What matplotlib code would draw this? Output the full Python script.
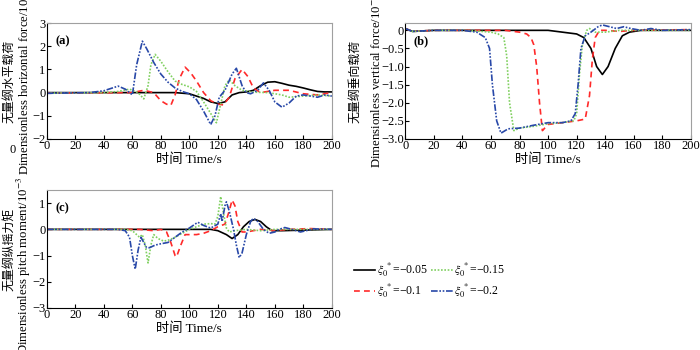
import numpy as np
import matplotlib
matplotlib.use('Agg')
import matplotlib.pyplot as plt
from matplotlib.ticker import FuncFormatter

plt.rcParams['font.family'] = ['Liberation Serif', 'Noto Sans CJK SC']
plt.rcParams['mathtext.fontset'] = 'stix'
plt.rcParams['axes.unicode_minus'] = True

labels = ['-0.05', '-0.1', '-0.15', '-0.2']

# (a) horizontal force
ta_05 = [0, 90, 100, 110, 115, 120, 125, 130, 135, 140, 145, 150, 155, 160, 165, 170, 175, 180, 185, 190, 195, 200]
ya_05 = [0, 0, -0.05, -0.25, -0.4, -0.47, -0.4, -0.1, 0.0, 0.03, 0.1, 0.3, 0.45, 0.47, 0.4, 0.32, 0.27, 0.2, 0.12, 0.05, 0.03, 0.03]
ta_1 = [0, 60, 68, 75, 80, 84, 87, 90, 93, 97, 101, 105, 110, 115, 120, 124, 128, 132, 137, 141, 145, 150, 160, 170, 180, 190, 200]
ya_1 = [-0.02, 0.0, 0.1, 0.0, -0.35, -0.5, -0.55, -0.1, 0.6, 1.1, 0.85, 0.5, 0.0, -0.35, -0.5, -0.53, -0.2, 0.6, 1.0, 0.7, 0.2, 0.0, 0.1, 0.1, -0.05, -0.1, 0.0]
ta_15 = [0, 40, 50, 58, 64, 68, 71, 73, 76, 80, 85, 90, 95, 100, 105, 110, 115, 119, 122, 125, 128, 132, 137, 145, 155, 165, 170, 180, 190, 200]
ya_15 = [-0.02, 0.0, 0.05, 0.15, 0.0, -0.27, 0.3, 1.2, 1.65, 1.35, 0.9, 0.5, 0.35, 0.25, 0.05, -0.4, -0.9, -1.3, -0.5, 0.3, 0.55, 0.3, 0.1, 0.02, 0.0, -0.1, -0.2, -0.15, -0.1, -0.15]
ta_2 = [0, 30, 40, 50, 55, 58, 60, 63, 67, 70, 75, 80, 85, 90, 95, 100, 105, 110, 115, 118, 121, 125, 130, 133, 137, 140, 143, 148, 152, 156, 160, 165, 170, 175, 180, 185, 190, 195, 200]
ya_2 = [-0.03, 0.0, 0.08, 0.28, 0.15, 0.0, -0.1, 1.2, 2.22, 1.9, 1.3, 0.8, 0.45, 0.2, 0.05, -0.05, -0.3, -0.8, -1.38, -1.0, -0.2, 0.1, 0.8, 1.05, 0.3, 0.0, -0.05, 0.1, 0.42, 0.1, -0.4, -0.63, -0.45, -0.15, -0.1, -0.15, -0.2, -0.1, -0.15]

# (b) vertical force
tb_05 = [0, 5, 20, 100, 110, 120, 125, 130, 134, 138, 142, 147, 152, 157, 165, 200]
yb_05 = [0.05, -0.03, 0.0, 0.0, -0.05, -0.1, -0.2, -0.5, -1.0, -1.22, -1.0, -0.5, -0.15, -0.05, 0.0, 0.0]
tb_1 = [0, 5, 20, 70, 80, 85, 88, 90, 92, 94, 96, 100, 110, 120, 126, 129, 131, 133, 136, 140, 150, 160, 200]
yb_1 = [0.05, -0.03, 0.0, 0.0, -0.05, -0.1, -0.2, -0.4, -1.0, -2.0, -2.77, -2.6, -2.55, -2.5, -2.45, -1.8, -0.8, -0.2, 0.0, 0.0, -0.03, 0.0, 0.02]
tb_15 = [0, 5, 20, 40, 50, 60, 65, 69, 71, 73, 76, 80, 90, 100, 110, 118, 120, 122, 124, 127, 129, 133, 140, 150, 200]
yb_15 = [0.05, -0.03, 0.0, 0.0, -0.02, -0.05, -0.1, -0.2, -0.7, -2.0, -2.77, -2.7, -2.65, -2.58, -2.55, -2.5, -2.3, -1.2, -0.4, 0.0, 0.05, -0.05, -0.05, 0.0, 0.0]
tb_2 = [0, 5, 20, 40, 50, 56, 59, 61, 64, 67, 72, 80, 90, 100, 110, 116, 119, 121, 123, 126, 130, 135, 138, 143, 148, 153, 158, 165, 172, 180, 200]
yb_2 = [0.05, -0.03, 0.0, 0.0, -0.05, -0.2, -0.5, -1.5, -2.5, -2.84, -2.72, -2.7, -2.62, -2.55, -2.55, -2.5, -2.3, -1.5, -0.5, -0.15, -0.05, 0.1, 0.15, 0.1, 0.05, 0.1, 0.05, 0.0, 0.05, 0.0, 0.02]

# (c) pitch moment
tc_05 = [0, 115, 120, 126, 130, 134, 138, 142, 146, 150, 154, 158, 165, 200]
yc_05 = [0, 0, -0.05, -0.2, -0.35, -0.2, 0.1, 0.3, 0.38, 0.3, 0.1, -0.05, -0.05, 0.0]
tc_1 = [0, 65, 75, 80, 84, 87, 90, 91, 94, 97, 100, 105, 110, 115, 120, 125, 128, 130, 132, 134, 137, 140, 145, 150, 160, 170, 185, 200]
yc_1 = [0, 0, -0.05, 0.0, -0.1, -0.5, -1.0, -1.05, -0.6, -0.2, -0.2, -0.2, -0.15, -0.05, 0.1, 0.2, 0.7, 1.12, 0.9, 0.3, -0.1, -0.1, -0.05, 0.0, -0.05, 0.0, 0.03, 0.0]
tc_15 = [0, 55, 60, 63, 65, 67, 69, 71, 73, 75, 78, 82, 86, 90, 95, 100, 105, 110, 115, 118, 120, 122, 124, 126, 128, 132, 140, 150, 160, 200]
yc_15 = [0, 0, -0.05, -0.2, -0.3, -0.2, -0.6, -1.28, -0.6, -0.2, -0.35, -0.45, -0.4, -0.3, -0.15, 0.0, 0.1, 0.2, 0.22, 0.2, 0.5, 1.25, 0.6, 0.05, -0.1, -0.05, 0.0, -0.05, 0.0, 0.0]
tc_2 = [0, 50, 55, 58, 60, 62, 64, 66, 68, 70, 72, 76, 80, 85, 90, 95, 100, 104, 106, 110, 115, 120, 122, 123, 125, 126, 128, 131, 133, 135, 137, 140, 143, 145, 148, 152, 156, 160, 163, 167, 172, 178, 182, 187, 200]
yc_2 = [0, 0, -0.05, -0.3, -1.0, -1.52, -0.8, -0.3, -0.5, -0.7, -0.7, -0.6, -0.55, -0.5, -0.3, -0.1, 0.05, 0.2, 0.27, 0.15, 0.05, 0.2, 0.6, 0.3, 0.9, 1.05, 0.7, 0.0, -0.6, -1.08, -0.9, -0.2, 0.3, 0.42, 0.3, 0.0, -0.15, -0.1, 0.0, 0.07, 0.0, -0.1, -0.05, 0.02, 0.0]

colors = ['black', '#ff2a2a', '#80d060', '#2848a8']
styles = ['-', (0, (3.5, 2.5)), (0, (1, 1)), (0, (4, 1, 1, 1, 1, 1))]

fig = plt.figure(figsize=(7, 3.5), dpi=100)
ax_a = fig.add_axes([0.067, 0.603, 0.407, 0.331])
ax_b = fig.add_axes([0.579, 0.603, 0.408, 0.331])
ax_c = fig.add_axes([0.067, 0.12, 0.407, 0.337])

# axis, series, chinese label, english label, ylim, yticks, tag, x of the label lines, y of english line
panels = [
    (ax_a, [(ta_05, ya_05), (ta_1, ya_1), (ta_15, ya_15), (ta_2, ya_2)],
     '无量纲水平载荷', 'Dimensionless horizontal force/10$^{-3}$',
     (-2, 3), [-2, -1, 0, 1, 2, 3], '(a)', (-0.133, -0.08), 0.5),
    (ax_b, [(tb_05, yb_05), (tb_1, yb_1), (tb_15, yb_15), (tb_2, yb_2)],
     '无量纲垂向载荷', 'Dimensionless vertical force/10$^{-3}$',
     (-3, 0.2), [-3, -2.5, -2, -1.5, -1, -0.5, 0], '(b)', (-0.175, -0.1), 0.5),
    (ax_c, [(tc_05, yc_05), (tc_1, yc_1), (tc_15, yc_15), (tc_2, yc_2)],
     '无量纲纵摇力矩', 'Dimensionless pitch moment/10$^{-3}$',
     (-3, 1.5), [-3, -2, -1, 0, 1], '(c)', (-0.133, -0.08), 0.36),
]

handles = []
for ax, series, ylab_cn, ylab_en, ylim, yticks, tag, labx, laby in panels:
    for i, (t, y) in enumerate(series):
        h, = ax.plot(t, y, color=colors[i], linestyle=styles[i], lw=1.2,
                     label=r'$\xi_0^{\ *}$=−' + labels[i][1:])
        if ax is ax_a:
            handles.append(h)
    ax.set_xlim(0, 200)
    ax.set_ylim(*ylim)
    ax.set_xticks(range(0, 201, 20))
    ax.set_yticks(yticks)
    if ax is ax_b:
        ax.yaxis.set_major_formatter(FuncFormatter(
            lambda v, p: '0' if abs(v) < 1e-9 else ('%.1f' % v).replace('-', '−')))
    ax.tick_params(direction='in', length=3, labelsize=9, top=False, right=False, pad=1)
    ax.set_xlabel('时间 Time/s', fontsize=9.5, labelpad=1)
    ax.text(labx[0], 0.5, ylab_cn, transform=ax.transAxes, rotation=90,
            ha='center', va='center', fontsize=8.6)
    ax.text(labx[1], laby, ylab_en, transform=ax.transAxes, rotation=90,
            ha='center', va='center', fontsize=9.2)
    ax.text(0.03, 0.82, tag, transform=ax.transAxes, fontsize=9, fontweight='bold')
    for s in ['top', 'right']:
        ax.spines[s].set_color('#a0a0a0')
    for s in ax.spines.values():
        s.set_linewidth(0.8)

fig.text(9 / 700, 1 - 153 / 350, '0', fontsize=9)

fig.legend(handles=handles, ncol=2, loc='upper left', bbox_to_anchor=(0.49, 0.285),
           frameon=False, fontsize=8.5, handlelength=1.8, handletextpad=0.15,
           columnspacing=0.3, labelspacing=0.25)

fig.savefig('out.png', dpi=100)
